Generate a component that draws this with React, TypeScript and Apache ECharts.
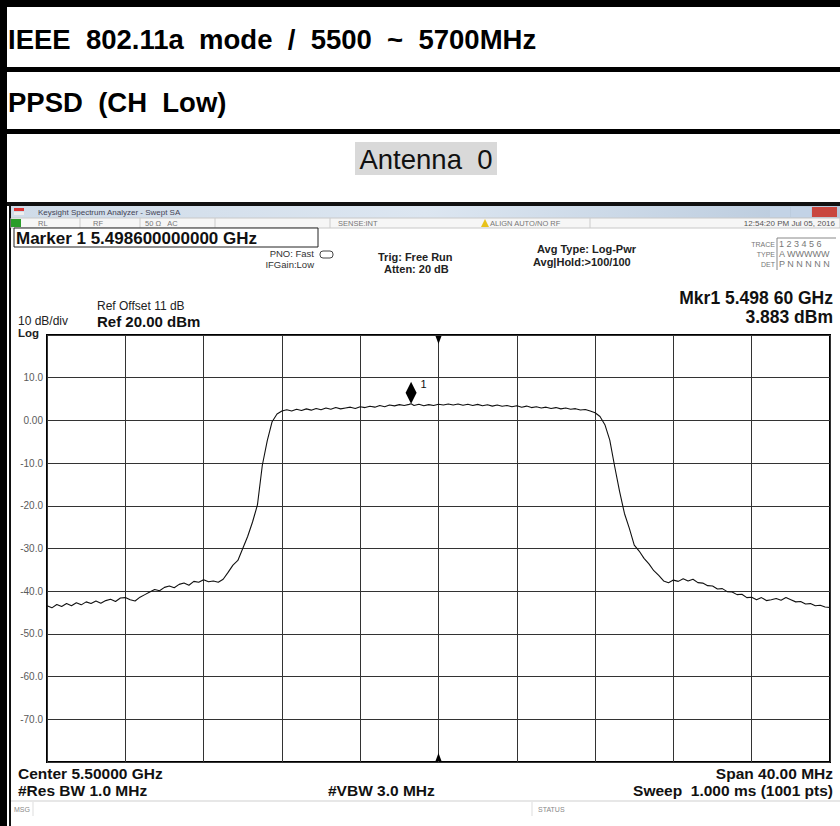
import React, { useEffect, useRef } from "react";
import * as echarts from "echarts";

// Frequency offset from centre (MHz) and trace level (dBm)
const freqMHz = [
  -20.0, -19.75, -19.5, -19.25, -19.0, -18.75, -18.5, -18.25, -18.0, -17.75,
  -17.5, -17.25, -17.0, -16.75, -16.5, -16.25, -16.0, -15.75, -15.5, -15.25,
  -15.0, -14.75, -14.5, -14.25, -14.0, -13.75, -13.5, -13.25, -13.0, -12.75,
  -12.5, -12.25, -12.0, -11.75, -11.5, -11.25, -11.0, -10.75, -10.5, -10.25,
  -10.0, -9.75, -9.5, -9.25, -9.0, -8.75, -8.5, -8.25, -8.0, -7.75,
  -7.5, -7.25, -7.0, -6.75, -6.5, -6.25, -6.0, -5.75, -5.5, -5.25,
  -5.0, -4.75, -4.5, -4.25, -4.0, -3.75, -3.5, -3.25, -3.0, -2.75,
  -2.5, -2.25, -2.0, -1.75, -1.5, -1.4, -1.25, -1.0, -0.75, -0.5,
  -0.25, 0.0, 0.25, 0.5, 0.75, 1.0, 1.25, 1.5, 1.75, 2.0,
  2.25, 2.5, 2.75, 3.0, 3.25, 3.5, 3.75, 4.0, 4.25, 4.5,
  4.75, 5.0, 5.25, 5.5, 5.75, 6.0, 6.25, 6.5, 6.75, 7.0,
  7.25, 7.5, 7.75, 8.0, 8.25, 8.5, 8.75, 9.0, 9.25, 9.5,
  9.75, 10.0, 10.25, 10.5, 10.75, 11.0, 11.25, 11.5, 11.75, 12.0,
  12.25, 12.5, 12.75, 13.0, 13.25, 13.5, 13.75, 14.0, 14.25, 14.5,
  14.75, 15.0, 15.25, 15.5, 15.75, 16.0, 16.25, 16.5, 16.75, 17.0,
  17.25, 17.5, 17.75, 18.0, 18.25, 18.5, 18.75, 19.0, 19.25, 19.5,
  19.75, 20.0,
];

const levelDbm = [
  -43.4, -43.9, -43.1, -43.6, -42.9, -43.4, -42.7, -43.2, -42.5, -42.9,
  -42.3, -42.8, -42.2, -41.9, -42.4, -41.6, -41.5, -42.0, -42.3, -41.4,
  -40.8, -40.2, -39.6, -39.9, -39.1, -38.8, -39.2, -38.4, -38.1, -38.6,
  -37.7, -37.9, -37.3, -37.8, -37.6, -37.9, -37.2, -35.6, -33.9, -32.8,
  -30.0, -27.2, -23.8, -19.8, -10.5, -4.8, -0.3, 1.5, 2.2, 2.5,
  2.2, 2.6, 2.3, 2.7, 2.4, 2.8, 2.5, 2.9, 2.6, 3.0,
  2.7, 2.9, 3.1, 2.8, 3.2, 3.0, 3.3, 3.1, 3.5, 3.2,
  3.6, 3.4, 3.7, 3.5, 3.75, 3.883, 3.5, 3.8, 3.45, 3.7,
  3.5, 3.8, 3.6, 3.85, 3.6, 3.85, 3.55, 3.8, 3.5, 3.75,
  3.45, 3.65, 3.35, 3.6, 3.3, 3.5, 3.2, 3.45, 3.1, 3.35,
  3.0, 3.2, 2.9, 3.1, 2.8, 3.0, 2.7, 2.9, 2.6, 2.75,
  2.45, 2.55, 2.2, 1.8, 0.9, -1.0, -4.6, -10.8, -16.6, -21.8,
  -25.3, -29.2, -30.6, -32.3, -33.6, -35.2, -36.3, -37.6, -38.0, -37.4,
  -37.7, -37.1, -37.6, -37.2, -38.0, -38.1, -38.7, -38.8, -39.5, -39.4,
  -40.1, -40.2, -40.8, -40.7, -41.5, -41.4, -42.0, -41.5, -42.2, -42.0,
  -41.7, -42.1, -41.5, -42.0, -42.5, -42.4, -43.0, -42.9, -43.4, -43.3,
  -43.7, -43.8,
];

const markerFreq = -1.4;
const markerLevel = 3.883;

const yTickLabels: Record<number, string> = {
  10: "10.0", 0: "0.00", [-10]: "-10.0", [-20]: "-20.0", [-30]: "-30.0",
  [-40]: "-40.0", [-50]: "-50.0", [-60]: "-60.0", [-70]: "-70.0",
};

const HEAD_FONT = "'Liberation Sans', Arial, sans-serif";
const SA_FONT = "'Liberation Sans', Arial, sans-serif";

export default function App() {
  const ref = useRef<HTMLDivElement>(null);

  useEffect(() => {
    document.body.style.margin = "0";
    if (!ref.current) return;
    const chart = echarts.init(ref.current, undefined, { renderer: "svg" });

    const t = (x: number, y: number, text: string, size: number, opts: any = {}) => ({
      type: "text",
      x,
      y,
      silent: true,
      style: {
        text,
        fontSize: size,
        fontFamily: opts.family || SA_FONT,
        fontWeight: opts.weight || "normal",
        fill: opts.fill || "#111",
        align: opts.align || "left",
        verticalAlign: "middle",
      },
      z: 10,
    });

    const graphic: any[] = [
      // page borders / table rows
      { type: "rect", shape: { x: 0, y: 0, width: 840, height: 7 }, style: { fill: "#000" } },
      { type: "rect", shape: { x: 0, y: 0, width: 7, height: 826 }, style: { fill: "#000" } },
      { type: "rect", shape: { x: 0, y: 67, width: 840, height: 5 }, style: { fill: "#000" } },
      { type: "rect", shape: { x: 0, y: 129, width: 840, height: 5 }, style: { fill: "#000" } },
      t(8, 39, "IEEE  802.11a  mode  /  5500  ~  5700MHz", 27.5, { weight: "bold", family: HEAD_FONT, fill: "#000" }),
      t(8, 102, "PPSD  (CH  Low)", 27.5, { weight: "bold", family: HEAD_FONT, fill: "#000" }),
      { type: "rect", shape: { x: 355, y: 142, width: 142, height: 33 }, style: { fill: "#d9d9d9" } },
      t(426, 159, "Antenna  0", 27.5, { family: HEAD_FONT, fill: "#111", align: "center" }),

      // screenshot frame
      { type: "rect", shape: { x: 7, y: 202, width: 833, height: 4 }, style: { fill: "#111" } },
      { type: "rect", shape: { x: 9, y: 202, width: 2, height: 624 }, style: { fill: "#111" } },
      {
        type: "rect",
        shape: { x: 11, y: 206, width: 829, height: 12 },
        style: {
          fill: new echarts.graphic.LinearGradient(0, 0, 1, 0, [
            { offset: 0, color: "#cfdbe8" },
            { offset: 0.5, color: "#dce6f1" },
            { offset: 1, color: "#b8c9dc" },
          ]),
        },
      },
      { type: "rect", shape: { x: 14, y: 208, width: 10, height: 3 }, style: { fill: "#d33" } },
      { type: "rect", shape: { x: 14, y: 212, width: 10, height: 3 }, style: { fill: "#eee" } },
      t(38, 212, "Keysight Spectrum Analyzer - Swept SA", 8, { fill: "#445" }),
      { type: "rect", shape: { x: 770, y: 207, width: 20, height: 10 }, style: { fill: "#c3d3e6" } },
      { type: "rect", shape: { x: 791, y: 207, width: 20, height: 10 }, style: { fill: "#c3d3e6" } },
      { type: "rect", shape: { x: 812, y: 207, width: 25, height: 10 }, style: { fill: "#c9473f" } },
      { type: "rect", shape: { x: 11, y: 218, width: 829, height: 10 }, style: { fill: "#f6f6f6", stroke: "#c8c8c8", lineWidth: 1 } },
      { type: "rect", shape: { x: 11, y: 219, width: 10, height: 8 }, style: { fill: "#2a9d2a" } },
      t(38, 223, "RL", 7.5, { fill: "#777" }),
      t(93, 223, "RF", 7.5, { fill: "#777" }),
      t(145, 223, "50 Ω   AC", 7.5, { fill: "#777" }),
      t(338, 223, "SENSE:INT", 7.5, { fill: "#777" }),
      { type: "polygon", shape: { points: [[481, 227], [485, 219], [489, 227]] }, style: { fill: "#e8c21a" } },
      t(490, 223, "ALIGN AUTO/NO RF", 7.5, { fill: "#777" }),
      t(835, 223, "12:54:20 PM Jul 05, 2016", 8, { fill: "#555", align: "right" }),
      { type: "line", shape: { x1: 80, y1: 218, x2: 80, y2: 228 }, style: { stroke: "#ccc" } },
      { type: "line", shape: { x1: 140, y1: 218, x2: 140, y2: 228 }, style: { stroke: "#ccc" } },
      { type: "line", shape: { x1: 215, y1: 218, x2: 215, y2: 228 }, style: { stroke: "#ccc" } },
      { type: "line", shape: { x1: 330, y1: 218, x2: 330, y2: 228 }, style: { stroke: "#ccc" } },
      { type: "line", shape: { x1: 590, y1: 218, x2: 590, y2: 228 }, style: { stroke: "#ccc" } },

      // marker readout box
      { type: "rect", shape: { x: 14, y: 228, width: 304, height: 19 }, style: { fill: "#fff", stroke: "#222", lineWidth: 1 } },
      t(16, 238, "Marker 1 5.498600000000 GHz", 17, { weight: "bold" }),
      t(314, 253, "PNO: Fast", 9.5, { fill: "#333", align: "right" }),
      t(314, 264, "IFGain:Low", 9.5, { fill: "#333", align: "right" }),
      { type: "rect", shape: { x: 320, y: 251, width: 13, height: 7, r: 3 }, style: { fill: "#fff", stroke: "#444", lineWidth: 1 } },
      t(378, 257, "Trig: Free Run", 11, { weight: "bold", fill: "#222" }),
      t(384, 269, "Atten: 20 dB", 11, { weight: "bold", fill: "#222" }),
      t(537, 249, "Avg Type: Log-Pwr", 11, { weight: "bold", fill: "#222" }),
      t(533, 262, "Avg|Hold:>100/100", 11, { weight: "bold", fill: "#222" }),
      t(775, 244, "TRACE", 7, { fill: "#777", align: "right" }),
      t(775, 254, "TYPE", 7, { fill: "#777", align: "right" }),
      t(775, 264, "DET", 7, { fill: "#777", align: "right" }),
      t(779, 244, "1 2 3 4 5 6", 9, { fill: "#777" }),
      t(779, 254, "A WWWWW", 9, { fill: "#777" }),
      t(779, 264, "P N N N N N", 9, { fill: "#777" }),
      { type: "line", shape: { x1: 777, y1: 238, x2: 777, y2: 270 }, style: { stroke: "#888" } },
      { type: "line", shape: { x1: 777, y1: 238, x2: 836, y2: 238 }, style: { stroke: "#888" } },

      t(833, 298, "Mkr1 5.498 60 GHz", 17.5, { weight: "bold", align: "right" }),
      t(833, 317, "3.883 dBm", 17.5, { weight: "bold", align: "right" }),
      t(97, 306, "Ref Offset 11 dB", 12, { fill: "#222" }),
      t(97, 321, "Ref 20.00 dBm", 15, { weight: "bold" }),
      t(18, 321, "10 dB/div", 12, { fill: "#222" }),
      t(18, 333, "Log", 11.5, { weight: "bold", fill: "#222" }),

      // bottom annotations
      t(18, 773, "Center 5.50000 GHz", 15.5, { weight: "bold" }),
      t(833, 773, "Span 40.00 MHz", 15.5, { weight: "bold", align: "right" }),
      t(18, 790, "#Res BW 1.0 MHz", 15.5, { weight: "bold" }),
      t(328, 790, "#VBW 3.0 MHz", 15.5, { weight: "bold" }),
      t(833, 790, "Sweep  1.000 ms (1001 pts)", 15.5, { weight: "bold", align: "right" }),
      { type: "line", shape: { x1: 11, y1: 801, x2: 840, y2: 801 }, style: { stroke: "#cfcfcf" } },
      t(14, 809, "MSG", 7, { fill: "#888" }),
      { type: "line", shape: { x1: 33, y1: 802, x2: 33, y2: 816 }, style: { stroke: "#ddd" } },
      t(538, 809, "STATUS", 7, { fill: "#888" }),
      { type: "line", shape: { x1: 532, y1: 802, x2: 532, y2: 816 }, style: { stroke: "#ddd" } },
    ];

    const data = freqMHz.map((f, i) => [f, levelDbm[i]]);

    chart.setOption({
      animation: false,
      backgroundColor: "#fff",
      grid: {
        left: 47,
        top: 335,
        width: 783,
        height: 427,
        show: true,
        borderColor: "#000",
        borderWidth: 2,
        backgroundColor: "#fff",
      },
      xAxis: {
        type: "value",
        min: -20,
        max: 20,
        interval: 4,
        axisLine: { show: false },
        axisTick: { show: false },
        axisLabel: { show: false },
        splitLine: { show: true, lineStyle: { color: "#333", width: 1 } },
      },
      yAxis: {
        type: "value",
        min: -80,
        max: 20,
        interval: 10,
        axisLine: { show: false },
        axisTick: { show: false },
        axisLabel: {
          margin: 4,
          fontSize: 10,
          color: "#5a5a5a",
          fontFamily: SA_FONT,
          formatter: (v: number) => yTickLabels[v] ?? "",
        },
        splitLine: { show: true, lineStyle: { color: "#333", width: 1 } },
      },
      graphic,
      series: [
        {
          type: "line",
          data,
          showSymbol: false,
          symbol: "none",
          lineStyle: { color: "#111", width: 1.1 },
          z: 5,
          markPoint: {
            silent: true,
            data: [
              {
                coord: [markerFreq, markerLevel],
                symbol: "diamond",
                symbolSize: [11, 22],
                symbolOffset: [0, -11],
                itemStyle: { color: "#000" },
                label: {
                  show: true,
                  formatter: "1",
                  position: "right",
                  offset: [-1, -9],
                  fontSize: 11,
                  color: "#111",
                  fontFamily: SA_FONT,
                },
              },
              {
                coord: [0, 20],
                symbol: "triangle",
                symbolRotate: 180,
                symbolSize: [6, 8],
                symbolOffset: [0, 5],
                itemStyle: { color: "#000" },
                label: { show: false },
              },
              {
                coord: [0, -80],
                symbol: "triangle",
                symbolSize: [6, 8],
                symbolOffset: [0, -5],
                itemStyle: { color: "#000" },
                label: { show: false },
              },
            ],
          },
        },
      ],
    });

    return () => chart.dispose();
  }, []);

  return <div ref={ref} style={{ width: 840, height: 826 }} />;
}
